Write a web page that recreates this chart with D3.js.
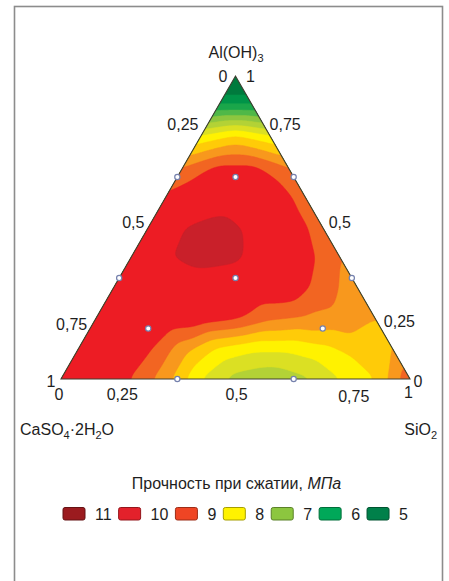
<!DOCTYPE html>
<html><head><meta charset="utf-8">
<script src="https://cdn.jsdelivr.net/npm/d3@7"></script>
<style>
body{margin:0;background:#fff}
svg{display:block}
text{font-family:"Liberation Sans",Arial,Helvetica,sans-serif;fill:#1e1e1e}
</style>
</head><body><div id="chart"></div>
<script>
// ---------------- DATA ----------------
// Compressive strength (MPa) on a triangular grid.
// Row i: Al(OH)3 fraction = i/10; entry j: SiO2 fraction = j/10 (CaSO4·2H2O = rest).
const gridSteps = 10;
const strengthAl00 = [10.7, 10.4, 10.0, 9.2, 8.0, 7.3, 7.1, 7.4, 8.0, 8.5, 9.9];
const strengthAl01 = [10.6, 10.4, 10.1, 9.2, 8.4, 8.1, 8.1, 8.35, 8.7, 9.0];
const strengthAl02 = [10.6, 10.5, 10.4, 10.3, 10.1, 9.6, 9.45, 9.35, 9.0];
const strengthAl03 = [10.4, 10.5, 10.6, 10.6, 10.4, 10.4, 9.75, 9.2];
const strengthAl04 = [10.3, 10.95, 11.2, 11.1, 10.6, 10.2, 9.5];
const strengthAl05 = [10.2, 11.0, 11.2, 10.9, 10.4, 9.7];
const strengthAl06 = [10.1, 10.6, 10.7, 10.5, 9.7];
const strengthAl07 = [9.5, 10.1, 10.1, 9.5];
const strengthAl08 = [8.1, 8.6, 8.1];
const strengthAl09 = [5.6, 5.6];
const strengthAl10 = [4.0];
const strengthRows = [strengthAl00, strengthAl01, strengthAl02, strengthAl03, strengthAl04,
  strengthAl05, strengthAl06, strengthAl07, strengthAl08, strengthAl09, strengthAl10];

// Experimental design points (fractions)
const designAl = [2/3, 2/3, 2/3, 1/3, 1/3, 1/3, 1/6, 1/6, 0, 0];
const designSi = [1/6, 0, 1/3, 1/3, 0, 2/3, 1/6, 2/3, 1/3, 2/3];

const tickValues = [0, 0.25, 0.5, 0.75, 1];
const tickLabels = ["0", "0,25", "0,5", "0,75", "1"];

const bandThresholds = [0, 5, 5.5, 6, 6.5, 7, 7.5, 8, 8.5, 9, 9.5, 10, 11];
const bandColors = ["#007a3d", "#009448", "#1aa64a", "#50b848", "#8dc63f", "#b3d236", "#dbe023",
  "#fff200", "#ffcb08", "#f8981d", "#f26522", "#ed1c24", "#c9202a"];

const legendValues = [11, 10, 9, 8, 7, 6, 5];
const legendColors = ["#9b1b1f", "#e3212b", "#ef4524", "#fff200", "#8cc63f", "#00a859", "#00804a"];

// ---------------- LAYOUT ----------------
const W = 449, H = 581;
const svg = d3.select("#chart").append("svg").attr("width", W).attr("height", H);
svg.append("rect").attr("width", W).attr("height", H).attr("fill", "#fff");
svg.append("rect").attr("x", 14.5).attr("y", 6.5).attr("width", 428).attr("height", 620)
  .attr("fill", "none").attr("stroke", "#8c8c8c").attr("stroke-width", 1.6);

const triL = 61, triR = 410, triT = 76, triB = 379;
const hScale = d3.scaleLinear().domain([0, 1]).range([triL, triR]);   // horizontal coordinate
const aScale = d3.scaleLinear().domain([0, 1]).range([triB, triT]);   // Al(OH)3 fraction
const pos = (a, c) => [hScale(c + a / 2), aScale(a)];

// value at ternary point from triangular grid (barycentric, linear)
function valueAt(a, c) {
  const N = gridSteps;
  let u = Math.max(0, Math.min(1, a)) * N;
  let v = Math.max(0, Math.min(N - u, c * N));
  let i = Math.min(Math.floor(u), N - 1);
  let j = Math.min(Math.floor(v), N - 1 - i);
  if (j < 0) j = 0;
  const fu = u - i, fv = v - j;
  const V = (ii, jj) => strengthRows[ii][Math.min(jj, strengthRows[ii].length - 1)];
  if (fu + fv <= 1) {
    return V(i, j) * (1 - fu - fv) + V(i + 1, j) * fu + V(i, j + 1) * fv;
  }
  return V(i + 1, j + 1) * (fu + fv - 1) + V(i + 1, j) * (1 - fv) + V(i, j + 1) * (1 - fu);
}

const gw = triR - triL + 1, gh = triB - triT + 1;
const values = new Float64Array(gw * gh);
for (let py = 0; py < gh; py++) {
  for (let px = 0; px < gw; px++) {
    const x = triL + px, y = triT + py;
    const a = Math.max(0, Math.min(1, aScale.invert(y)));
    let c = hScale.invert(x) - a / 2;
    c = Math.max(0, Math.min(1 - a, c));
    values[py * gw + px] = valueAt(a, c);
  }
}
if (d3.blur2) d3.blur2({data: values, width: gw, height: gh}, 4);

const tri = [pos(1, 0), pos(0, 0), pos(0, 1)];
svg.append("clipPath").attr("id", "triClip").append("path")
  .attr("d", "M" + tri.map(p => p.join(",")).join("L") + "Z");

const contours = d3.contours().size([gw, gh]).thresholds(bandThresholds)(values);
const colorOf = d3.scaleOrdinal().domain(bandThresholds).range(bandColors);
const path = d3.geoPath(d3.geoIdentity().translate([triL - 0.5, triT - 0.5]));
svg.append("g").attr("clip-path", "url(#triClip)")
  .selectAll("path").data(contours).join("path")
  .attr("d", path).attr("fill", d => colorOf(d.value)).attr("stroke", d => colorOf(d.value)).attr("stroke-width", 0.5);

svg.append("path").attr("d", "M" + tri.map(p => p.join(",")).join("L") + "Z")
  .attr("fill", "none").attr("stroke", "#3e3e30").attr("stroke-width", 1.1);

// design points
svg.append("g").selectAll("circle").data(designAl.map((a, i) => [a, designSi[i]])).join("circle")
  .attr("cx", d => pos(d[0], d[1])[0]).attr("cy", d => pos(d[0], d[1])[1])
  .attr("r", 2.6).attr("fill", "#fff").attr("stroke", "#7581ad").attr("stroke-width", 1.2);

// tick labels: left edge (CaSO4 0 at apex -> 1 at bottom-left), right edge (Al 1 at apex -> 0), bottom (SiO2)
const fs = 16;
const leftNudge = [[-12.5, 0], [-9, -28], [-15, -5], [-33, 21], [-10, 2]];
const rightNudge = [[15, 0], [6, -28], [17, -5], [33, 18], [8, 2]];
const bottomNudge = [[-2, 15], [-26, 15], [1, 15], [31, 17], [-1.5, 13]];
const tickG = svg.append("g").attr("font-size", fs).attr("text-anchor", "middle");
tickValues.forEach((t, k) => {
  const pl = pos(1 - t, 0);
  tickG.append("text").attr("x", pl[0] + leftNudge[k][0]).attr("y", pl[1] + leftNudge[k][1])
    .attr("dy", "0.36em").text(tickLabels[k]);
  const pr = pos(1 - t, t);
  tickG.append("text").attr("x", pr[0] + rightNudge[k][0]).attr("y", pr[1] + rightNudge[k][1])
    .attr("dy", "0.36em").text(tickLabels[4 - k]);
  const pb = pos(0, t);
  tickG.append("text").attr("x", pb[0] + bottomNudge[k][0]).attr("y", pb[1] + bottomNudge[k][1])
    .attr("dy", "0.36em").text(tickLabels[k]);
});

// vertex titles
const t1 = svg.append("text").attr("x", 236).attr("y", 57.5).attr("font-size", 16).attr("text-anchor", "middle");
t1.append("tspan").text("Al(OH)");
t1.append("tspan").attr("font-size", 11).attr("dy", 4).text("3");

const t2 = svg.append("text").attr("x", 20).attr("y", 435).attr("font-size", 16);
t2.append("tspan").text("CaSO");
t2.append("tspan").attr("font-size", 11).attr("dy", 4).text("4");
t2.append("tspan").attr("dy", -4).text("·2H");
t2.append("tspan").attr("font-size", 11).attr("dy", 4).text("2");
t2.append("tspan").attr("dy", -4).text("O");

const t3 = svg.append("text").attr("x", 437).attr("y", 435).attr("font-size", 16).attr("text-anchor", "end");
t3.append("tspan").text("SiO");
t3.append("tspan").attr("font-size", 11).attr("dy", 4).text("2");

// legend
const lt = svg.append("text").attr("x", 236.5).attr("y", 489).attr("font-size", 16).attr("text-anchor", "middle");
lt.append("tspan").text("Прочность при сжатии, ");
lt.append("tspan").attr("font-style", "italic").text("МПа");

let lx = 63;
const lg = svg.append("g");
legendValues.forEach((v, i) => {
  lg.append("rect").attr("x", lx).attr("y", 507.5).attr("width", 22).attr("height", 12.5).attr("rx", 2)
    .attr("fill", legendColors[i]).attr("stroke", d3.color(legendColors[i]).darker(1.2)).attr("stroke-width", 1);
  const tx = lg.append("text").attr("x", lx + 32).attr("y", 519.5).attr("font-size", 16).text(v);
  const tw = tx.node().getComputedTextLength();
  lx += 22 + 10 + tw + 7;
});
</script>
</body></html>
